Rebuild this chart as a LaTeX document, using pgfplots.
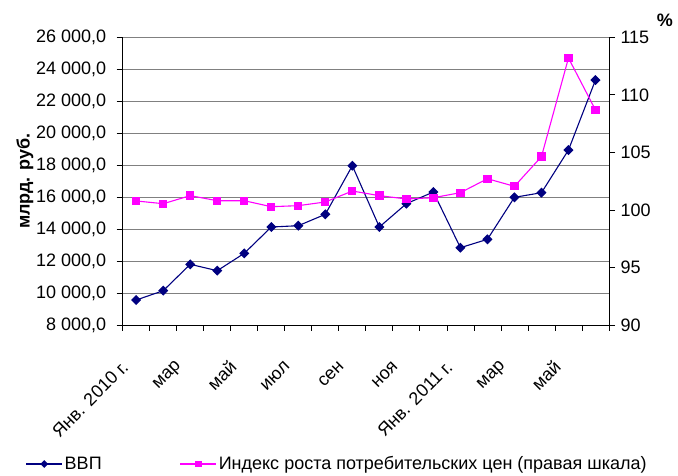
\documentclass[border=0pt]{standalone}
\usepackage{pgfplots}
\pgfplotsset{compat=1.18}
\usepackage{fontspec}
\setmainfont{Liberation Sans}[FakeStretch=1.0]
\definecolor{gdp}{RGB}{0,0,128}
\definecolor{cpi}{RGB}{255,0,255}
\definecolor{gridc}{RGB}{128,128,128}

\begin{document}
\begin{tikzpicture}
\pgfplotsset{
  base/.style={width=486.3pt,height=287.7pt,scale only axis,
    xmin=0,xmax=18, tick align=outside, major tick length=6pt,
    every tick/.style={black, line width=0.8pt},
    axis line style={black, line width=0.8pt},
    font=\fontsize{18}{22}\selectfont,
    /pgf/number format/assume math mode=true,
    scaled y ticks=false,
    clip=false,
  },
  gdpstyle/.style={gdp, line width=1.1pt, mark=square*, mark size=3pt, mark options={rotate=45, solid, fill=gdp}},
  cpistyle/.style={cpi, line width=1.1pt, mark=square*, mark size=3.6pt, mark options={solid, fill=cpi}},
}
\begin{axis}[base, name=ax,
  axis x line*=bottom, axis y line*=left,
  ymin=8000, ymax=26000, ytick={8000,10000,...,26000},
  yticklabels={{8 000,0},{10 000,0},{12 000,0},{14 000,0},{16 000,0},{18 000,0},{20 000,0},{22 000,0},{24 000,0},{26 000,0}},
  ymajorgrids, grid style={gridc, line width=0.8pt},
  xtick={0,1,...,18}, xticklabels={},
  xticklabel style={xshift=-11pt, yshift=-39pt, rotate=45, anchor=east, inner sep=0pt},
  extra x ticks={0.5,2.5,4.5,6.5,8.5,10.5,12.5,14.5,16.5},
  extra x tick labels={Янв. 2010 г.,мар,май,июл,сен,ноя,Янв. 2011 г.,мар,май},
  extra x tick style={major tick length=0pt},
  ylabel={\bfseries млрд. руб.},
  ylabel style={at={(axis description cs:-0.201,0.5)}, anchor=center},
  yticklabel style={xshift=-7pt},
]
\addplot[gdpstyle] coordinates {
(0.5,9564) (1.5,10146) (2.5,11797) (3.5,11397) (4.5,12485) (5.5,14131)
(6.5,14212) (7.5,14925) (8.5,17966) (9.5,14131) (10.5,15590) (11.5,16320)
(12.5,12837) (13.5,13360) (14.5,15988) (15.5,16277) (16.5,18948) (17.5,23327)
};
\end{axis}
\begin{axis}[base,
  axis x line=none, axis y line*=right,
  ymin=90, ymax=115, ytick={90,95,...,115},
  ylabel={\bfseries\%},
  ylabel style={rotate=-90, at={(axis description cs:1.115,1.06)}, anchor=center},
  yticklabel style={xshift=2pt},
  legend columns=2,
  legend style={at={(axis description cs:-0.2,-0.483)}, anchor=west, draw=none, fill=none,
    inner sep=0pt, font=\fontsize{18}{22}\selectfont,
    /tikz/every even column/.append style={column sep=76pt}},
  legend image code/.code={\draw[mark repeat=2,mark phase=2] plot coordinates {(0pt,0pt)(18pt,0pt)(36pt,0pt)};},
]
\addlegendimage{gdpstyle, mark size=2.2pt}
\addlegendentry{ВВП}
\addplot[cpistyle, forget plot] coordinates {
(0.5,100.78) (1.5,100.54) (2.5,101.24) (3.5,100.80) (4.5,100.80) (5.5,100.28)
(6.5,100.37) (7.5,100.69) (8.5,101.64) (9.5,101.24) (10.5,100.95) (11.5,101.06)
(12.5,101.50) (13.5,102.71) (14.5,102.05) (15.5,104.63) (16.5,113.2) (17.5,108.68)
};
\addlegendimage{cpistyle, mark size=2.8pt}
\addlegendentry{Индекс роста потребительских цен (правая шкала)}
\end{axis}
\pgfresetboundingbox
\path[use as bounding box] ([shift={(-122.7pt,-151pt)}]ax.south west) rectangle ([shift={(69pt,37.3pt)}]ax.north east);
\end{tikzpicture}
\end{document}
